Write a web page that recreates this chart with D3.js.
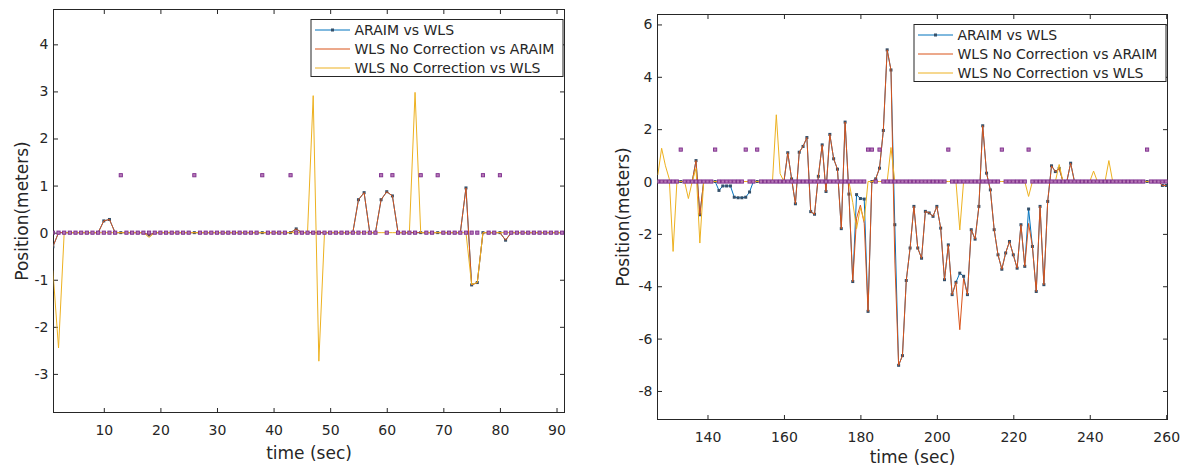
<!DOCTYPE html>
<html>
<head>
<meta charset="utf-8">
<script src="https://cdn.jsdelivr.net/npm/d3@7"></script>
<style>
  body { margin: 0; background: #fff; }
  svg { display: block; font-family: "DejaVu Sans", sans-serif; }
</style>
</head>
<body>
<svg id="chart" width="1185" height="469"></svg>
<script>
// ---- data ----
var seriesNames = ['ARAIM vs WLS', 'WLS No Correction vs ARAIM', 'WLS No Correction vs WLS'];

// left panel, time (sec)
var leftTime = [
  1, 2, 3, 4, 5, 6, 7, 8, 9, 10,
  11, 12, 13, 14, 15, 16, 17, 18, 19, 20,
  21, 22, 23, 24, 25, 26, 27, 28, 29, 30,
  31, 32, 33, 34, 35, 36, 37, 38, 39, 40,
  41, 42, 43, 44, 45, 46, 47, 48, 49, 50,
  51, 52, 53, 54, 55, 56, 57, 58, 59, 60,
  61, 62, 63, 64, 65, 66, 67, 68, 69, 70,
  71, 72, 73, 74, 75, 76, 77, 78, 79, 80,
  81, 82, 83, 84, 85, 86, 87, 88, 89, 90,
  91];
var leftAraimWls = [
  -0.3, 0, 0, 0, 0, 0, 0, 0, 0, 0.25,
  0.28, 0, 0, 0, 0, 0, 0, -0.05, 0, 0,
  0, 0, 0, 0, 0, 0, 0, 0, 0, 0,
  0, 0, 0, 0, 0, 0, 0, 0, 0, 0,
  0, 0, 0, 0.08, 0, 0, 0, 0, 0, 0,
  0, 0, 0, 0, 0.7, 0.85, 0, 0, 0.7, 0.87,
  0.78, 0, 0, 0, 0, 0, 0, 0, 0, 0,
  0, 0, 0, 0.95, -1.11, -1.06, 0, 0, 0, 0,
  -0.16, 0, 0, 0, 0, 0, 0, 0, 0, 0,
  0];
var leftNoCorrAraim = [
  -0.3, 0, 0, 0, 0, 0, 0, 0, 0, 0.25,
  0.28, 0, 0, 0, 0, 0, 0, -0.05, 0, 0,
  0, 0, 0, 0, 0, 0, 0, 0, 0, 0,
  0, 0, 0, 0, 0, 0, 0, 0, 0, 0,
  0, 0, 0, 0.08, 0, 0, 0, 0, 0, 0,
  0, 0, 0, 0, 0.7, 0.85, 0, 0, 0.7, 0.87,
  0.78, 0, 0, 0, 0, 0, 0, 0, 0, 0,
  0, 0, 0, 0.95, -1.11, -1.06, 0, 0, 0, 0,
  -0.16, 0, 0, 0, 0, 0, 0, 0, 0, 0,
  0];
var leftNoCorrWls = [
  -0.8, -2.45, 0, 0, 0, 0, 0, 0, 0, 0,
  0, 0, 0, 0, 0, 0, 0, -0.1, 0, 0,
  0, 0, 0, 0, 0, 0, 0, 0, 0, 0,
  0, 0, 0, 0, 0, 0, 0, 0, 0, 0,
  0, 0, 0, 0, 0, 0, 2.91, -2.73, 0, 0,
  0, 0, 0, 0, 0, 0, 0, 0, 0, 0,
  0, 0, 0, 0, 2.98, 0, 0, 0, 0, 0,
  0, 0, 0, 0, -1.1, -1.06, 0, 0, 0, 0,
  0, 0, 0, 0, 0, 0, 0, 0, 0, 0,
  0];
// square markers (no legend entry)
var leftFlag = [
  0, 0, 0, 0, 0, 0, 0, 0, 0, 0,
  0, 0, 1.22, 0, 0, 0, 0, 0, 0, 0,
  0, 0, 0, 0, 0, 1.22, 0, 0, 0, 0,
  0, 0, 0, 0, 0, 0, 0, 1.22, 0, 0,
  0, 0, 1.22, 0, 0, 0, 0, 0, 0, 0,
  0, 0, 0, 0, 0, 0, 0, 0, 1.22, 0,
  1.22, 0, 0, 0, 0, 1.22, 0, 0, 1.22, 0,
  0, 0, 0, 0, 0, 0, 1.22, 0, 0, 1.22,
  0, 0, 0, 0, 0, 0, 0, 0, 0, 0,
  0];

// right panel, time (sec)
var rightTime = [
  127, 128, 129, 130, 131, 132, 133, 134, 135, 136,
  137, 138, 139, 140, 141, 142, 143, 144, 145, 146,
  147, 148, 149, 150, 151, 152, 153, 154, 155, 156,
  157, 158, 159, 160, 161, 162, 163, 164, 165, 166,
  167, 168, 169, 170, 171, 172, 173, 174, 175, 176,
  177, 178, 179, 180, 181, 182, 183, 184, 185, 186,
  187, 188, 189, 190, 191, 192, 193, 194, 195, 196,
  197, 198, 199, 200, 201, 202, 203, 204, 205, 206,
  207, 208, 209, 210, 211, 212, 213, 214, 215, 216,
  217, 218, 219, 220, 221, 222, 223, 224, 225, 226,
  227, 228, 229, 230, 231, 232, 233, 234, 235, 236,
  237, 238, 239, 240, 241, 242, 243, 244, 245, 246,
  247, 248, 249, 250, 251, 252, 253, 254, 255, 256,
  257, 258, 259, 260];
var rightAraimWls = [
  0, 0, 0, 0, 0, 0, 0, 0, 0, 0,
  0.8, -1.27, 0, 0, 0, 0, -0.34, -0.17, -0.17, -0.17,
  -0.6, -0.62, -0.62, -0.6, -0.4, 0, 0, 0, 0, 0,
  0, 0, 0, 0, 1.1, 0.1, -0.85, 1.12, 1.34, 1.68,
  -1.15, -1.25, 0.2, 1.4, -0.38, 1.8, 0.87, 0.47, -1.8, 2.27,
  -0.48, -3.82, -0.5, -0.65, -0.67, -4.96, 0, 0.1, 0.51, 1.95,
  5.03, 4.26, -1.65, -7.02, -6.65, -3.78, -2.54, -0.95, -2.54, -2.93,
  -1.14, -1.2, -1.33, -0.95, -1.78, -3.75, -2.42, -4.32, -3.85, -3.5,
  -3.62, -4.32, -1.84, -2.2, -0.95, 2.13, 0.32, -0.32, -1.84, -2.8,
  -3.35, -2.73, -2.29, -2.8, -3.31, -1.65, -3.24, -1.05, -2.48, -4.2,
  -0.95, -3.94, -0.76, 0.6, 0.38, 0.5, 0, 0, 0.7, 0,
  0, 0, 0, 0, 0, 0, 0, 0, 0, 0,
  0, 0, 0, 0, 0, 0, 0, 0, 0, 0,
  0, 0, -0.15, -0.15];
var rightNoCorrAraim = [
  0, 0, 0, 0, 0, 0, 0, 0, 0, 0,
  0.8, -1.27, 0, 0, 0, 0, 0, 0, 0, 0,
  0, 0, 0, 0, 0, 0, 0, 0, 0, 0,
  0, 0, 0, 0, 1.1, 0.1, -0.85, 1.12, 1.34, 1.68,
  -1.15, -1.25, 0.2, 1.4, -0.38, 1.8, 0.87, 0.47, -1.8, 2.27,
  -0.48, -3.82, -1.4, -0.9, -1.6, -4.96, 0, 0.1, 0.51, 1.95,
  5.03, 4.26, -3.0, -7.02, -6.65, -3.78, -2.54, -0.95, -2.54, -2.93,
  -1.14, -1.2, -1.33, -0.95, -1.78, -3.75, -2.42, -4.32, -3.85, -5.66,
  -3.7, -4.32, -1.84, -2.2, -0.95, 2.13, 0.32, -0.32, -1.84, -2.8,
  -3.35, -2.73, -2.29, -2.8, -3.31, -1.65, -3.24, -1.6, -2.48, -4.2,
  -0.95, -3.94, -0.76, 0.6, 0.38, 0.5, 0, 0, 0.7, 0,
  0, 0, 0, 0, 0, 0, 0, 0, 0, 0,
  0, 0, 0, 0, 0, 0, 0, 0, 0, 0,
  0, 0, -0.15, -0.15];
var rightNoCorrWls = [
  0.25, 1.27, 0.6, 0.1, -2.67, 0, 0, 0, -0.65, 0,
  0.5, -2.35, 0, 0, 0, 0, 0, 0, 0, 0,
  0, 0, 0, 0, 0, 0, 0, 0, 0, 0,
  0, 2.55, 0.3, 0, 0, 0, 0, 0, 0, 0,
  0, 0, 0, 0, 0, 0, 0, 0, 0, 0,
  0, -0.8, -1.8, -1.0, -1.5, 0, 0, 0, 0, 0,
  0, 1.3, 0, 0, 0, 0, 0, 0, 0, 0,
  0, 0, 0, 0, 0, 0, 0, 0, 0, -1.85,
  0, 0, 0, 0, 0, 0, 0, 0, 0, 0,
  0, 0, 0, 0, 0, 0, 0, -0.57, 0, 0,
  0, 0, 0, 0, 0, 0.65, 0, 0, 0, 0,
  0, 0, 0, 0, 0.4, 0, 0, 0, 0.8, 0,
  0, 0, 0, 0, 0, 0, 0, 0, 0, 0,
  0, 0, 0, 0];
var rightFlag = [
  0, 0, 0, 0, 0, 0, 1.22, 0, 0, 0,
  0, 0, 0, 0, 0, 1.22, 0, 0, 0, 0,
  0, 0, 0, 1.22, 0, 0, 1.22, 0, 0, 0,
  0, 0, 0, 0, 0, 0, 0, 0, 0, 0,
  0, 0, 0, 0, 0, 0, 0, 0, 0, 0,
  0, 0, 0, 0, 0, 1.22, 1.22, 0, 1.22, 0,
  0, 0, 0, 0, 0, 0, 0, 0, 0, 0,
  0, 0, 0, 0, 0, 0, 1.22, 0, 0, 0,
  0, 0, 0, 0, 0, 0, 0, 0, 0, 0,
  1.22, 0, 0, 0, 0, 0, 0, 1.22, 0, 0,
  0, 0, 0, 0, 0, 0, 0, 0, 0, 0,
  0, 0, 0, 0, 0, 0, 0, 0, 0, 0,
  0, 0, 0, 0, 0, 0, 0, 0, 1.22, 0,
  0, 0, 0, 0];

// tick labels
var leftXTicks = [10, 20, 30, 40, 50, 60, 70, 80, 90];
var leftYTicks = [-3, -2, -1, 0, 1, 2, 3, 4];
var rightXTicks = [140, 160, 180, 200, 220, 240, 260];
var rightYTicks = [-8, -6, -4, -2, 0, 2, 4, 6];

// ---- styling ----
var ink = '#262626',
    lineColors = ['#0072BD', '#D95319', '#EDB120'],
    markerColor = '#34506a',
    flagStroke = '#7E2F8E',
    flagFill = '#b77ab7',
    tickLen = 4.5;

// plain hyphen minus like the original labels
var tickText = function(d) { return String(d); };

var svg = d3.select('#chart');

function drawPanel(p) {
    var x = d3.scaleLinear().domain(p.xDomain).range([p.left, p.right]);
    var y = d3.scaleLinear().domain(p.yDomain).range([p.bottom, p.top]);

    var g = svg.append('g').attr('class', 'panel-' + p.id);

    g.append('clipPath')
        .attr('id', 'clip-' + p.id)
        .append('rect')
        .attr('x', p.left)
        .attr('y', p.top)
        .attr('width', p.right - p.left)
        .attr('height', p.bottom - p.top);

    // axes, ticks pointing inward like matlab
    var axes = [
        [d3.axisBottom(x).tickValues(p.xTicks).tickFormat(tickText).tickPadding(13), p.bottom, 'x'],
        [d3.axisTop(x).tickValues(p.xTicks).tickFormat(''), p.top, 'x'],
        [d3.axisLeft(y).tickValues(p.yTicks).tickFormat(tickText).tickPadding(5), p.left, 'y'],
        [d3.axisRight(y).tickValues(p.yTicks).tickFormat(''), p.right, 'y']
    ];
    axes.forEach(function(a) {
        var ax = g.append('g')
            .attr('transform', a[2] === 'x' ? 'translate(0,' + a[1] + ')' : 'translate(' + a[1] + ',0)')
            .call(a[0].tickSizeInner(-tickLen).tickSizeOuter(0));
        ax.select('.domain').remove();
        ax.selectAll('line').attr('stroke', ink);
        ax.selectAll('text')
            .attr('fill', ink)
            .style('font-size', '14px')
            .style('font-family', '"DejaVu Sans", sans-serif');
    });

    // box
    g.append('rect')
        .attr('x', p.left)
        .attr('y', p.top)
        .attr('width', p.right - p.left)
        .attr('height', p.bottom - p.top)
        .attr('fill', 'none')
        .attr('stroke', ink)
        .attr('stroke-width', 1);

    var plot = g.append('g').attr('clip-path', 'url(#clip-' + p.id + ')');

    var line = d3.line()
        .x(function(d) { return x(d[0]); })
        .y(function(d) { return y(d[1]); });

    p.series.forEach(function(values, i) {
        var pts = p.time.map(function(t, k) { return [t, values[k]]; });
        plot.append('path')
            .datum(pts)
            .attr('d', line)
            .attr('fill', 'none')
            .attr('stroke', lineColors[i])
            .attr('stroke-width', 1);
        if (i === 0) {
            plot.selectAll('.mk-' + p.id)
                .data(pts)
                .enter().append('rect')
                .attr('class', 'mk-' + p.id)
                .attr('x', function(d) { return x(d[0]) - 1.5; })
                .attr('y', function(d) { return y(d[1]) - 1.5; })
                .attr('width', 3)
                .attr('height', 3)
                .attr('fill', markerColor);
        }
    });

    // square flag markers
    var flags = p.time.map(function(t, k) { return [t, p.flag[k]]; });
    plot.selectAll('.flag-' + p.id)
        .data(flags)
        .enter().append('rect')
        .attr('class', 'flag-' + p.id)
        .attr('x', function(d) { return x(d[0]) - 1.6; })
        .attr('y', function(d) { return y(d[1]) - 1.6; })
        .attr('width', 3.2)
        .attr('height', 3.2)
        .attr('fill', flagFill)
        .attr('stroke', flagStroke)
        .attr('stroke-width', 0.9);

    // axis labels
    g.append('text')
        .attr('x', (p.left + p.right) / 2)
        .attr('y', p.xLabelY)
        .attr('text-anchor', 'middle')
        .attr('fill', ink)
        .style('font-size', '17px')
        .text('time (sec)');

    g.append('text')
        .attr('transform', 'translate(' + p.yLabelX + ',' + (p.top + p.bottom) / 2 + ') rotate(-90)')
        .attr('text-anchor', 'middle')
        .attr('fill', ink)
        .style('font-size', '17px')
        .text('Position(meters)');

    // legend
    var lw = 252, lh = 57,
        lx = p.right - 1.5 - lw,
        ly = p.top + 10;
    var leg = g.append('g').attr('transform', 'translate(' + lx + ',' + ly + ')');
    leg.append('rect')
        .attr('width', lw)
        .attr('height', lh)
        .attr('fill', '#fff')
        .attr('stroke', ink)
        .attr('stroke-width', 1);
    seriesNames.forEach(function(name, i) {
        var ry = 10.5 + i * 19;
        leg.append('line')
            .attr('x1', 4).attr('x2', 39)
            .attr('y1', ry).attr('y2', ry)
            .attr('stroke', lineColors[i])
            .attr('stroke-width', 1);
        if (i === 0) {
            leg.append('rect')
                .attr('x', 20).attr('y', ry - 1.5)
                .attr('width', 3).attr('height', 3)
                .attr('fill', markerColor);
        }
        leg.append('text')
            .attr('x', 43.5)
            .attr('y', ry)
            .attr('dy', '0.36em')
            .attr('fill', ink)
            .style('font-size', '14px')
            .text(name);
    });
}

drawPanel({
    id: 'left',
    left: 53.5, right: 564.5, top: 9.5, bottom: 412.5,
    xDomain: [1.11, 91.41], yDomain: [-3.82, 4.74],
    xTicks: leftXTicks, yTicks: leftYTicks,
    time: leftTime,
    series: [leftAraimWls, leftNoCorrAraim, leftNoCorrWls],
    flag: leftFlag,
    xLabelY: 459, yLabelX: 28
});

drawPanel({
    id: 'right',
    left: 657.5, right: 1167.5, top: 14.5, bottom: 419.5,
    xDomain: [126.92, 260.34], yDomain: [-9.09, 6.38],
    xTicks: rightXTicks, yTicks: rightYTicks,
    time: rightTime,
    series: [rightAraimWls, rightNoCorrAraim, rightNoCorrWls],
    flag: rightFlag,
    xLabelY: 463, yLabelX: 629
});
</script>
</body>
</html>
